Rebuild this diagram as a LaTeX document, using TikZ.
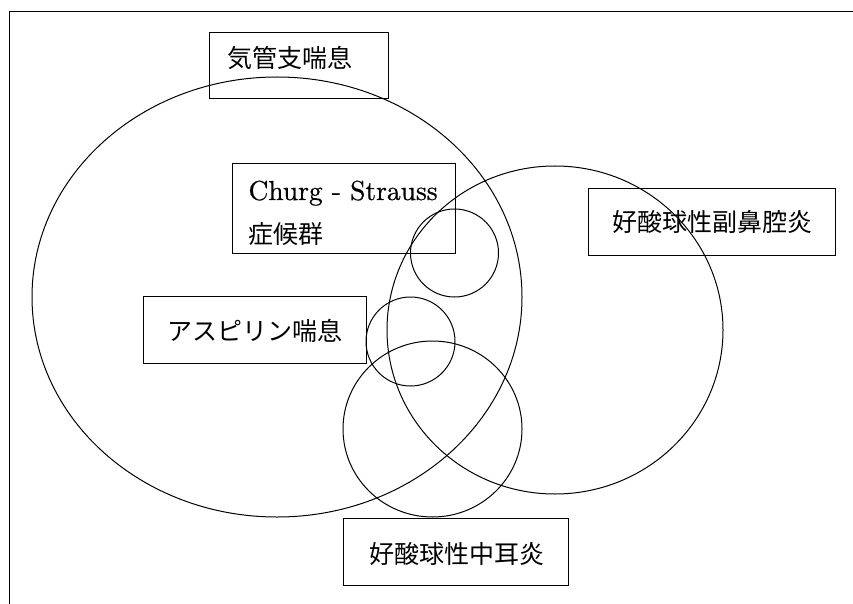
\documentclass[tikz,border=0pt]{standalone}
\usepackage{fontspec}
\newfontfamily\cjk{Noto Sans CJK JP}
\newfontfamily\churgfont{lmroman10-regular.otf}[FakeBold=0.5]
\begin{document}
\begin{tikzpicture}[x=1pt,y=-1pt,
  line width=1pt,
  box/.style={draw=black, line width=1pt, inner sep=0pt, rectangle},
  jtext/.style={inner sep=0pt, font=\cjk\fontsize{25}{30}\selectfont},
  etext/.style={inner sep=0pt, font=\churgfont\fontsize{27.5}{33}\selectfont},
  venn/.style={draw=black, line width=1pt}]
\useasboundingbox (0,0) rectangle (853,604);
% frame (top and left edges)
\coordinate (fTR) at (853,11);
\coordinate (fTL) at (9,11);
\coordinate (fBL) at (9,604);
\draw[line width=0.8pt] (fTR) -- (fTL) -- (fBL);
% Venn shapes
\draw[venn] (277,297) ellipse [x radius=245, y radius=220];
\draw[venn] (555,330) ellipse [x radius=168, y radius=164];
\draw[venn] (454.5,253) circle [radius=44];
\draw[venn] (410.5,341.5) circle [radius=44.5];
\draw[venn] (432.5,429) ellipse [x radius=89.5, y radius=88];
% boxes
\node[box, minimum width=179pt, minimum height=66pt] (b1) at (298.5,66) {};
\node[box, minimum width=223pt, minimum height=89pt] (b2) at (343.5,208.5) {};
\node[box, minimum width=247pt, minimum height=67pt] (b3) at (711.5,221.5) {};
\node[box, minimum width=223pt, minimum height=67pt] (b4) at (254.5,329.5) {};
\node[box, minimum width=225pt, minimum height=67pt] (b5) at (455.5,551.5) {};
% texts
\node[jtext, anchor=base west] (t1) at (227,68) {気管支喘息};
\node[etext, anchor=base west] (t2a) at (248,200) {Churg - Strauss};
\node[jtext, anchor=base west] (t2b) at (248,243) {症候群};
\node[jtext, anchor=base] (t3) at (712,231) {好酸球性副鼻腔炎};
\node[jtext, anchor=base] (t4) at (254.5,340) {アスピリン喘息};
\node[jtext, anchor=base] (t5) at (456.5,563) {好酸球性中耳炎};
\end{tikzpicture}
\end{document}
